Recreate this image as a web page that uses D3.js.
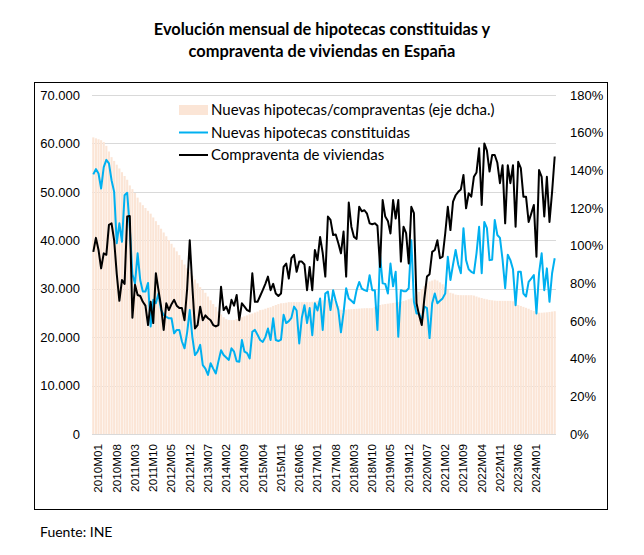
<!DOCTYPE html>
<html>
<head>
<meta charset="utf-8">
<script src="https://cdn.jsdelivr.net/npm/d3@7"></script>
<style>
body { margin: 0; background: #fff; }
text { font-family: "Liberation Sans", Arial, sans-serif; }
</style>
</head>
<body>
<svg width="644" height="555"></svg>
<script>
// Serie mensual 2010M01 - 2024M10
var months = [];
for (var yy = 2010; yy <= 2024; yy++) {
  for (var mm = 1; mm <= 12; mm++) {
    if (yy == 2024 && mm > 10) break;
    months.push(yy + "M" + (mm < 10 ? "0" + mm : mm));
  }
}

var tickLabels = ["2010M01","2010M08","2011M03","2011M10","2012M05","2012M12","2013M07",
  "2014M02","2014M09","2015M04","2015M11","2016M06","2017M01","2017M08","2018M03",
  "2018M10","2019M05","2019M12","2020M07","2021M02","2021M09","2022M04","2022M11",
  "2023M06","2024M01"];

// hipotecas / compraventas (%), eje derecho
var ratio = [157.5,157,156.5,156,155,153,150,147,145,143,141,139,
  137,135,132,130,128,125.5,123,121.5,120,118.5,117,115,
  113,111,109,107,105,103,101,99,97,95,92.5,90,
  88,86,84,82,80,78,76.5,75,73,71,69,67.5,
  65,63.5,62,61,60.5,60.5,60.5,61,61.5,62,62.5,63,
  63.6,64,64.5,65,65.8,66,66.5,67,67.3,68,68.5,69,
  69.4,69.5,69.7,70,70,70,70,70,70,70,70,70,
  70.2,70.4,70.6,70.8,71,71.2,71.4,71.6,71.6,70,68,66,
  65.8,66,66.2,66.3,66.4,66.5,66.6,66.7,66.8,66.8,66.8,66.8,
  67.5,68,68.5,68.8,69,69.2,69.4,69.6,69.8,70,70.2,70.6,
  71,71.5,72,73,74,75.5,77,78.5,80,81,81.5,82,
  81.5,80.5,79.5,78,76.5,75,74.6,74,73.8,73.7,73.7,73.7,
  73.7,73.7,73.5,73,72.5,72.2,71.8,71.5,71.2,71,70.8,70.7,
  70.7,70.7,70.7,70.7,70.7,70.5,70,68.5,68,67.5,67,66.5,
  65.8,65.3,64.8,64.4,64.4,64.5,64.6,64.8,65,65.2];

// nuevas hipotecas constituidas (miles)
var hipotecas = [53.6,54.7,53.8,50.7,55.1,56.6,55.9,52.4,50.0,39.4,43.5,39.7,
  49.3,49.8,42.5,33,31.1,37.3,31.8,29.4,29.4,31.2,22.2,27.7,
  27.0,29.0,25.6,24.6,24.2,23.9,23.9,20.8,21.5,21.5,19.1,17.7,
  21,25.6,20,16.3,17,18.4,14.2,13.5,12.2,14.6,13.5,12.5,
  15,17.3,16.3,15.8,15.3,17.7,17,15,14.9,19.4,17,16.7,
  15.6,21.1,21.5,20.5,19.4,19.0,20,21.8,19.4,23.9,19.4,19.2,
  19.5,24.6,22.9,23.3,24,26.3,25.5,18.7,24,26.6,22.9,26.0,
  20.4,27.0,25.5,28.0,21.5,29.0,29.4,25.6,29.7,27.5,25.6,21,
  25,30.1,28,27.5,27,29.7,31.4,30,29.7,29.5,32.8,29.7,
  29.7,21.5,37.0,31.1,31,29.0,35.2,30.5,33.5,20.1,29.7,29.5,
  29.5,30.1,40.0,27.3,24.9,24.9,23.2,26.3,26,19.8,27,29,
  27,27.5,28,29,36.6,31.8,35,38,35,33.2,42.5,35.9,
  34,33.5,33.2,37.3,42.8,33.2,43.8,42.5,35.9,36,44.2,41.1,
  40.5,36,30.1,37,35.9,34,26.6,33.5,33.5,29,28.4,31.4,
  32.1,32.8,24.9,33.2,37.3,29.7,34.2,27.3,33.2,36.3];

// compraventa de viviendas (miles)
var compraventas = [37.6,40.5,38.0,34.2,37.3,37.0,43.2,43.5,40.0,33.0,27.5,31.8,
  31.0,44.9,45.0,24.0,30.8,28.7,28.5,27.3,26.5,22.5,27.3,22.9,
  33.2,29.7,26.3,21.5,27.0,25.6,26.8,27.7,26.5,26.0,26.0,23.5,
  30,40.0,30.4,21.8,22.5,26.3,23.5,24.5,23.9,23.5,22.5,22.2,
  22.5,30.4,25.6,26.3,24.9,27.7,26.5,28.7,23.5,27.0,26.3,25.6,
  25.3,33.2,27.3,27.3,28.5,29.7,31,32.5,29.7,31,29.0,28.5,
  29.0,34.5,35.2,32.1,36.3,37.0,33.5,35.6,35.6,35.0,29.7,34.5,
  29.7,38.0,35.9,40.7,37.4,32.5,44.9,44.2,41.1,41.2,39.4,37.3,
  41.8,32.5,47.8,42.8,40.7,40.3,46.9,46.0,46.2,45.5,43.5,43.3,
  43.5,43.0,34.5,48.3,44.9,44.0,41.4,48.3,44.5,48.3,35.6,42.8,
  41.5,35.2,46.9,45.6,27.0,24.5,22.5,28.0,32.5,33.0,37.6,38.0,
  40.0,36.3,36.6,41.4,46.9,42.1,48.0,49.3,50.0,50.5,53.5,46.6,
  49.7,49.0,53.1,54.0,59.0,47.3,60.0,58.5,54.2,57.6,57.6,56,
  51.8,55.5,43.5,55.5,51.8,55.5,42.8,56.2,54.9,49.0,49.0,43.8,
  45.5,47.3,36.6,54.5,53.1,44.9,53.1,43.8,50.0,57.3];

var svg = d3.select("svg");

var x = d3.scaleBand()
    .domain(months)
    .range([92, 556])
    .paddingInner(0.2)
    .paddingOuter(0.1);

var yL = d3.scaleLinear().domain([0, 70000]).range([434, 95]);
var yR = d3.scaleLinear().domain([0, 180]).range([434, 95]);

var es = d3.formatLocale({decimal: ",", thousands: ".", grouping: [3], currency: ["", "€"]});
var fmt = es.format(",.0f");

// marco
svg.append("rect")
    .attr("x", 34.5).attr("y", 82.5)
    .attr("width", 573).attr("height", 427)
    .attr("fill", "none")
    .attr("stroke", "#000")
    .attr("stroke-width", 1);

// titulo
svg.append("text")
    .attr("x", 322).attr("y", 35)
    .attr("text-anchor", "middle")
    .style("font-family", "Lato, sans-serif")
    .style("font-weight", "bold")
    .style("font-size", "16.4px")
    .text("Evolución mensual de hipotecas constituidas y");
svg.append("text")
    .attr("x", 322).attr("y", 57)
    .attr("text-anchor", "middle")
    .style("font-family", "Lato, sans-serif")
    .style("font-weight", "bold")
    .style("font-size", "16.4px")
    .text("compraventa de viviendas en España");

// rejilla
svg.append("g")
  .selectAll("line")
  .data(d3.range(0, 70001, 10000))
  .enter().append("line")
    .attr("x1", 92).attr("x2", 556)
    .attr("y1", function(d) { return Math.round(yL(d)) + 0.5; })
    .attr("y2", function(d) { return Math.round(yL(d)) + 0.5; })
    .attr("stroke", "#d9d9d9")
    .attr("stroke-width", 1);

// barras (eje dcho)
svg.append("g")
  .selectAll("rect")
  .data(ratio)
  .enter().append("rect")
    .attr("x", function(d, i) { return x(months[i]); })
    .attr("width", x.bandwidth())
    .attr("y", function(d) { return yR(d); })
    .attr("height", function(d) { return yR(0) - yR(d); })
    .attr("fill", "#fbe5d6");

var line = d3.line()
    .x(function(d, i) { return x(months[i]) + x.bandwidth() / 2; })
    .y(function(d) { return yL(d * 1000); });

svg.append("path")
    .datum(hipotecas)
    .attr("fill", "none")
    .attr("stroke", "#00b0f0")
    .attr("stroke-width", 2)
    .attr("stroke-linejoin", "round")
    .attr("d", line);

svg.append("path")
    .datum(compraventas)
    .attr("fill", "none")
    .attr("stroke", "#000")
    .attr("stroke-width", 2)
    .attr("stroke-linejoin", "round")
    .attr("d", line);

// ejes
var gl = svg.append("g")
    .attr("transform", "translate(80,0)")
    .call(d3.axisLeft(yL).tickValues(d3.range(0, 70001, 10000)).tickSize(0).tickPadding(0).tickFormat(fmt));
gl.select(".domain").remove();
gl.selectAll("text").style("font-size", "13px").attr("fill", "#000");

var gr = svg.append("g")
    .attr("transform", "translate(570,0)")
    .call(d3.axisRight(yR).tickValues(d3.range(0, 181, 20)).tickSize(0).tickPadding(0).tickFormat(function(d) { return d + "%"; }));
gr.select(".domain").remove();
gr.selectAll("text").style("font-size", "13px").attr("fill", "#000");

var gx = svg.append("g")
    .attr("transform", "translate(0,444)")
    .call(d3.axisBottom(x).tickValues(tickLabels).tickSize(0));
gx.select(".domain").remove();
gx.selectAll("text")
    .style("font-size", "11.7px")
    .attr("fill", "#000")
    .attr("text-anchor", "end")
    .attr("transform", "rotate(-90)")
    .attr("x", 0)
    .attr("y", 5)
    .attr("dy", "0.35em");

// leyenda
var legend = [
  {label: "Nuevas hipotecas/compraventas (eje dcha.)", type: "bar"},
  {label: "Nuevas hipotecas constituidas", type: "blue"},
  {label: "Compraventa de viviendas", type: "black"}
];
var lg = svg.append("g").attr("transform", "translate(179,110)");
legend.forEach(function(d, i) {
  var yy = i * 22.5;
  if (d.type == "bar") {
    lg.append("rect").attr("x", 0).attr("y", yy - 5).attr("width", 29).attr("height", 10).attr("fill", "#fbe5d6");
  } else {
    lg.append("line").attr("x1", 0).attr("x2", 29).attr("y1", yy).attr("y2", yy)
      .attr("stroke", d.type == "blue" ? "#00b0f0" : "#000").attr("stroke-width", 2);
  }
  lg.append("text")
    .attr("x", 32).attr("y", yy).attr("dy", "0.35em")
    .style("font-family", "Lato, sans-serif")
    .style("font-size", "15px")
    .text(d.label);
});

svg.append("text")
    .attr("x", 40).attr("y", 537)
    .style("font-family", "Lato, sans-serif")
    .style("font-size", "14px")
    .text("Fuente: INE");
</script>
</body>
</html>
